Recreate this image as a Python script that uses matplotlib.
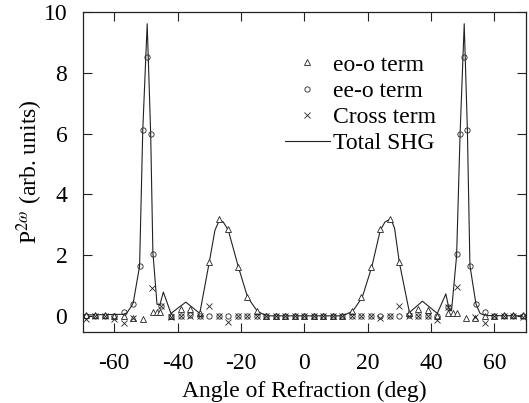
import matplotlib
matplotlib.use("Agg")
import matplotlib.pyplot as plt

# eo-o term (triangles)
x_eo = [-69, -66, -63, -60, -57, -54, -51, -47.7, -46.6, -45.6,
        -42, -39, -36, -33, -30, -27, -24, -21, -18, -15, -12, -9, -6, -3,
        0, 3, 6, 9, 12, 15, 18, 21, 24, 27, 30, 33, 36, 39, 42,
        45.5, 46.9, 48.1, 51, 54, 57, 60, 63, 66, 69]
y_eo = [0.05, 0.05, 0.05, 0.03, 0.0, -0.05, -0.08, 0.13, 0.13, 0.13,
        0.03, 0.23, 0.24, 0.1, 1.78, 3.2, 2.86, 1.63, 0.65, 0.19, 0.02, 0.0, 0.0, 0.0,
        0.0, 0.0, 0.0, 0.0, 0.02, 0.19, 0.65, 1.63, 2.86, 3.2, 1.78, 0.1, 0.24, 0.2, 0.03,
        0.1, 0.1, 0.1, -0.05, -0.05, 0.0, 0.03, 0.05, 0.05, 0.05]

# ee-o term (circles)
x_ee = [-69, -66, -63, -60, -57, -54, -52, -50.8, -49.6, -48.5, -47.8, -45.2,
        -42, -39, -36, -33, -30, -27, -24, -21, -18, -15, -12, -9, -6, -3,
        0, 3, 6, 9, 12, 15, 18, 21, 24, 27, 30, 33, 36, 39, 42,
        45.3, 48.2, 49.2, 50.4, 51.5, 52.3, 54.2, 57, 60, 63, 66, 69]
y_ee = [0.02, 0.02, 0.02, 0.02, 0.15, 0.42, 1.65, 6.1, 8.5, 6.0, 2.05, 0.35,
        0.02, 0.02, 0.05, 0.0, 0.0, 0.0, 0.0, 0.0, 0.0, 0.0, 0.0, 0.0, 0.0, 0.0,
        0.0, 0.0, 0.0, 0.0, 0.0, 0.0, 0.0, 0.0, 0.0, 0.0, 0.0, 0.05, 0.03, 0.0, 0.02,
        0.32, 2.05, 6.0, 8.5, 6.1, 1.67, 0.41, 0.15, 0.02, 0.02, 0.02, 0.02]

# Cross term (x markers)
x_cr = [-69, -66, -63, -60, -57, -54, -48.2, -45.2,
        -42, -39, -36, -33, -30, -27, -24, -21, -18, -15, -12, -9, -6, -3,
        0, 3, 6, 9, 12, 15, 18, 21, 24, 27, 30, 33, 36, 39, 42,
        45.3, 48.1, 54, 57, 60, 63, 66, 69]
y_cr = [-0.08, 0.0, 0.0, -0.08, -0.2, -0.05, 0.93, 0.35,
        -0.03, 0.0, 0.02, 0.0, 0.35, 0.0, -0.17, 0.0, 0.0, 0.0, 0.0, 0.0, 0.0, 0.0,
        0.0, 0.0, 0.0, 0.0, 0.0, 0.0, 0.0, 0.0, -0.05, 0.0, 0.33, 0.0, 0.02, 0.0, -0.1,
        0.3, 0.96, -0.03, -0.2, 0.0, 0.0, 0.0, -0.03]

# Total SHG (line)
x_tot = [-70, -57, -56, -54.5, -54, -52, -51, -49.6, -48.5, -47.8, -46.5, -45.6, -44.5,
         -42.1, -37.4, -33, -30, -28.2, -26.8, -25.6, -24, -20.8, -17.9, -14.8, -12,
         12, 15.3, 18.3, 21.3, 24, 25.5, 27.3, 28.5, 30, 33.2, 37.3, 42, 44.7, 45.8,
         46.5, 48.1, 49.2, 50.5, 51.5, 52.3, 54.2, 55.5, 57.1, 70]
y_tot = [0.05, 0.07, 0.12, 0.35, 0.45, 1.65, 6.1, 9.6, 6.0, 2.1, 0.4, 0.38, 0.8,
         0.1, 0.47, 0.1, 1.78, 2.83, 3.16, 3.1, 2.83, 1.62, 0.63, 0.17, 0.02,
         0.02, 0.17, 0.63, 1.62, 2.83, 3.1, 3.2, 2.9, 1.78, 0.13, 0.5, 0.1, 0.74, 0.19,
         0.19, 2.0, 6.0, 9.6, 6.1, 1.67, 0.41, 0.1, 0.03, 0.02]

x_ticks = [-60, -40, -20, 0, 20, 40, 60]
y_ticks = [0, 2, 4, 6, 8, 10]

plt.rcParams['font.family'] = ['Liberation Serif', 'DejaVu Serif']
plt.rcParams['mathtext.fontset'] = 'stix'
plt.rcParams['axes.unicode_minus'] = False

fig = plt.figure(figsize=(5.29, 4.03), dpi=100)
ax = fig.add_axes([0.1561, 0.1769, 0.8382, 0.7945])

col = '#222222'
ax.plot(x_tot, y_tot, '-', color=col, lw=0.8, label='Total SHG', zorder=2)
ax.plot(x_eo, y_eo, linestyle='none', marker='^', ms=3.8, mfc='white', mec=col,
        mew=0.6, label='eo-o term', zorder=3)
ax.plot(x_ee, y_ee, linestyle='none', marker='o', ms=3.8, mfc='none', mec=col,
        mew=0.6, label='ee-o term', zorder=3)
ax.plot(x_cr, y_cr, linestyle='none', marker='x', ms=3.8, mec=col,
        mew=0.6, label='Cross term', zorder=3)

ax.set_xlim(-70, 70)
ax.set_ylim(-0.5, 10)
ax.set_xticks(x_ticks)
ax.set_yticks(y_ticks)
ax.tick_params(direction='in', length=6.3, width=0.8, top=True, right=True,
               labelsize=17, colors=col, labelcolor='black')
ax.tick_params(axis='x', pad=15)
ax.tick_params(axis='y', pad=11)
for s in ax.spines.values():
    s.set_linewidth(0.9)
    s.set_color(col)

ax.set_xlabel('Angle of Refraction (deg)', fontsize=17, labelpad=5)
ax.set_ylabel(r'P$^{2\omega}$ (arb. units)', fontsize=17, labelpad=-1)

h, l = ax.get_legend_handles_labels()
order = [1, 2, 3, 0]
ax.legend([h[i] for i in order], [l[i] for i in order], loc='upper left',
          bbox_to_anchor=(285 / 529, 1 - 54 / 403), bbox_transform=fig.transFigure,
          frameon=False, fontsize=17, handlelength=1.9, handletextpad=0.15,
          labelspacing=0.2, borderpad=0, borderaxespad=0)

fig.savefig('out.png', dpi=100)
